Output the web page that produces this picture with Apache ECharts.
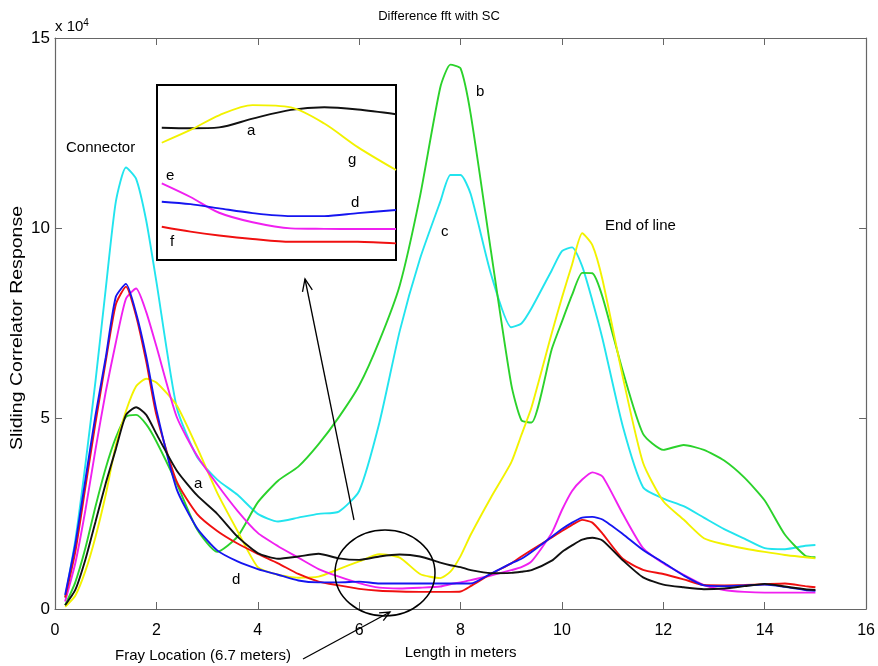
<!DOCTYPE html>
<html>
<head>
<meta charset="utf-8">
<script src="https://cdn.jsdelivr.net/npm/echarts@6/dist/echarts.min.js"></script>
<style>
  html, body { margin: 0; padding: 0; background: #fff; }
  #chart { width: 878px; height: 666px; }
</style>
</head>
<body>
<div id="chart"></div>
<script>
// sample positions along the line (meters)
const lengths = [0.2, 0.4, 0.6, 0.8, 1.0, 1.2, 1.4, 1.6, 1.8, 2.0,
  2.4, 2.8, 3.2, 3.6, 4.0, 4.4, 4.8, 5.2, 5.6, 6.0,
  6.4, 6.8, 7.2, 7.6, 7.8, 8.0, 8.2, 8.6, 9.0, 9.2,
  9.4, 9.8, 10.0, 10.2, 10.4, 10.6, 10.8, 11.2, 11.6, 12.0,
  12.4, 12.8, 13.2, 13.6, 14.0, 14.4, 14.8, 15.0];

// responses, in units of 1e4
const curveC = [0.3, 1.8, 3.8, 6.0, 8.4, 10.7, 11.6, 11.3, 10.2, 8.6,
  5.3, 4.0, 3.4, 3.0, 2.5, 2.3, 2.4, 2.5, 2.56, 3.1,
  4.9, 7.3, 9.2, 10.7, 11.4, 11.4, 10.9, 8.8, 7.4, 7.5,
  7.9, 8.9, 9.4, 9.5, 9.0, 8.1, 7.1, 4.8, 3.2, 2.9,
  2.7, 2.4, 2.1, 1.85, 1.6, 1.57, 1.66, 1.68];
const curveB = [0.1, 0.7, 1.6, 2.7, 3.7, 4.5, 5.05, 5.1, 4.85, 4.4,
  3.3, 2.1, 1.5, 1.9, 2.8, 3.37, 3.74, 4.33, 5.04, 5.87,
  7.05, 8.5, 10.84, 13.7, 14.3, 14.2, 13.0, 9.4, 5.9, 4.96,
  4.9, 6.83, 7.55, 8.25, 8.83, 8.82, 8.2, 6.25, 4.6, 4.18,
  4.31, 4.18, 3.9, 3.45, 2.85, 1.95, 1.4, 1.36];
const curveG = [0.06, 0.35, 1.0, 1.9, 3.0, 4.3, 5.2, 5.85, 6.05, 5.95,
  5.35, 4.25, 3.05, 2.05, 1.1, 0.9, 0.82, 0.85, 1.05, 1.25,
  1.44, 1.35, 0.92, 0.81, 0.98, 1.39, 1.95, 2.93, 3.85, 4.57,
  5.3, 7.25, 8.18, 9.05, 9.87, 9.56, 8.65, 6.1, 3.84, 2.83,
  2.35, 1.86, 1.7, 1.59, 1.5, 1.42, 1.36, 1.33];
const curveE = [0.2, 1.2, 2.6, 4.2, 5.7, 7.0, 8.15, 8.42, 7.8, 6.9,
  5.05, 4.03, 3.27, 2.58, 2.0, 1.65, 1.35, 1.05, 0.85, 0.68,
  0.56, 0.54, 0.56, 0.59, 0.65, 0.7, 0.76, 0.88, 1.02, 1.1,
  1.25, 2.0, 2.6, 3.1, 3.4, 3.59, 3.48, 2.5, 1.6, 1.2,
  0.9, 0.63, 0.5, 0.45, 0.43, 0.43, 0.43, 0.43];
const curveD = [0.37, 1.7, 3.4, 5.1, 6.6, 8.2, 8.54, 7.77, 6.63, 5.23,
  3.15, 2.13, 1.54, 1.25, 1.05, 0.9, 0.75, 0.7, 0.7, 0.72,
  0.67, 0.67, 0.67, 0.67, 0.67, 0.67, 0.67, 0.93, 1.2, 1.32,
  1.5, 1.9, 2.1, 2.27, 2.4, 2.42, 2.35, 1.97, 1.55, 1.22,
  0.88, 0.62, 0.6, 0.62, 0.64, 0.58, 0.5, 0.48];
const curveF = [0.3, 1.5, 3.2, 4.9, 6.5, 8.0, 8.47, 7.7, 6.5, 5.1,
  3.35, 2.5, 2.05, 1.72, 1.45, 1.2, 0.92, 0.72, 0.62, 0.53,
  0.48, 0.46, 0.45, 0.45, 0.45, 0.46, 0.6, 0.92, 1.2, 1.38,
  1.55, 1.88, 2.05, 2.21, 2.34, 2.27, 1.98, 1.32, 1.03, 0.92,
  0.78, 0.63, 0.62, 0.63, 0.65, 0.67, 0.6, 0.57];
const curveA = [0.1, 0.5, 1.3, 2.3, 3.3, 4.2, 5.1, 5.3, 5.1, 4.6,
  3.64, 2.99, 2.5, 1.9, 1.47, 1.32, 1.38, 1.45, 1.33, 1.29,
  1.38, 1.43, 1.38, 1.22, 1.15, 1.1, 1.02, 0.94, 0.95, 0.98,
  1.02, 1.27, 1.5, 1.67, 1.82, 1.87, 1.8, 1.28, 0.83, 0.64,
  0.57, 0.52, 0.54, 0.6, 0.66, 0.59, 0.52, 0.5];

// zoomed view of the fray region (inset, relative 0-100 scale)
const insetX = [2, 14, 26, 40, 56, 70, 84, 100];
const insetA = [75.6, 75.3, 75.8, 80.8, 85.8, 87.3, 86.0, 83.3];
const insetG = [67, 74.3, 82.7, 88.5, 87.2, 78, 64.5, 51.4];
const insetE = [43.8, 36, 27, 21.6, 18.1, 17.8, 17.7, 17.7];
const insetD = [33.3, 31.9, 29.5, 26.8, 25.1, 25.1, 26.8, 28.6];
const insetF = [19, 16.2, 14, 12, 10.4, 10.5, 10.4, 9.5];

const FONT = '"Liberation Sans", Arial, sans-serif';
const colors = {
  c: '#22e4ee', b: '#2bd22b', g: '#f2f200', e: '#f020f0',
  d: '#1515f0', f: '#f01010', a: '#111111'
};

const pairs = (xs, ys) => xs.map((x, i) => [x, ys[i]]);

function mainLine(name, ys) {
  return {
    name: name, type: 'line', xAxisIndex: 0, yAxisIndex: 0,
    data: pairs(lengths, ys), showSymbol: false, smooth: 0.2,
    lineStyle: { color: colors[name], width: 1.9 }, z: 3
  };
}
function insetLine(name, ys) {
  return {
    name: 'inset-' + name, type: 'line', xAxisIndex: 2, yAxisIndex: 2,
    data: pairs(insetX, ys), showSymbol: false, smooth: 0.3,
    lineStyle: { color: colors[name], width: 1.9 }, z: 6
  };
}

const axisGray = '#666';
const chart = echarts.init(document.getElementById('chart'));

const label = (text, x, y, size) => ({
  type: 'text', x: x, y: y, z: 20,
  style: { text: text, fontFamily: FONT, fontSize: size || 15, fill: '#000',
    verticalAlign: 'middle' }
});

// box axes: ticks inside on all four sides
const boxLine = { show: true, onZero: false, lineStyle: { color: axisGray, width: 1.2 } };
const boxTick = { show: true, inside: true, length: 7, lineStyle: { color: axisGray } };

chart.setOption({
  animation: false,
  backgroundColor: '#fff',
  title: {
    text: 'Difference fft with SC', left: 'center', top: 5,
    textStyle: { fontFamily: FONT, fontSize: 13, fontWeight: 'normal', color: '#000' }
  },
  grid: [
    { left: 55, right: 9, top: 38, bottom: 57 },
    { left: 157, top: 85, width: 239, height: 175, show: true,
      borderColor: '#000', borderWidth: 2, backgroundColor: '#fff', z: 5 }
  ],
  xAxis: [
    {
      type: 'value', gridIndex: 0, min: 0, max: 16, interval: 2,
      axisLine: boxLine, axisTick: boxTick,
      axisLabel: { fontFamily: FONT, fontSize: 16, color: '#000', margin: 14 },
      splitLine: { show: false },
      name: 'Length in meters', nameLocation: 'middle', nameGap: 36,
      nameTextStyle: { fontFamily: FONT, fontSize: 15, color: '#000' }
    },
    {
      type: 'value', gridIndex: 0, position: 'top', min: 0, max: 16, interval: 2,
      axisLine: boxLine, axisTick: boxTick,
      axisLabel: { show: false }, splitLine: { show: false }
    },
    { type: 'value', gridIndex: 1, min: 0, max: 100, show: false }
  ],
  yAxis: [
    {
      type: 'value', gridIndex: 0, min: 0, max: 15, interval: 5,
      axisLine: boxLine, axisTick: boxTick,
      axisLabel: { fontFamily: FONT, fontSize: 17, color: '#000', margin: 5 },
      splitLine: { show: false }
    },
    {
      type: 'value', gridIndex: 0, position: 'right', min: 0, max: 15, interval: 5,
      axisLine: boxLine, axisTick: boxTick,
      axisLabel: { show: false }, splitLine: { show: false }
    },
    { type: 'value', gridIndex: 1, min: 0, max: 100, show: false }
  ],
  series: [
    mainLine('c', curveC),
    mainLine('b', curveB),
    mainLine('g', curveG),
    mainLine('e', curveE),
    mainLine('f', curveF),
    mainLine('d', curveD),
    mainLine('a', curveA),
    insetLine('a', insetA),
    insetLine('g', insetG),
    insetLine('e', insetE),
    insetLine('d', insetD),
    insetLine('f', insetF)
  ],
  graphic: [
    // y axis title (source figure is stretched vertically)
    {
      type: 'text', x: 18, y: 328, rotation: Math.PI / 2, scaleX: 1.22, z: 20,
      style: { text: 'Sliding Correlator Response', fontFamily: FONT, fontSize: 16,
        fill: '#000', align: 'center', verticalAlign: 'middle' }
    },
    {
      type: 'text', x: 55, y: 27, z: 20,
      style: { text: 'x 10{s|4}', fontFamily: FONT, fontSize: 15, fill: '#000',
        verticalAlign: 'middle',
        rich: { s: { fontFamily: FONT, fontSize: 10, verticalAlign: 'top', padding: [0, 0, 8, 0] } } }
    },
    label('Connector', 66, 148),
    label('End of line', 605, 226),
    label('b', 476, 92),
    label('c', 441, 232),
    label('a', 194, 484),
    label('d', 232, 580),
    label('a', 247, 131),
    label('g', 348, 160),
    label('e', 166, 176),
    label('d', 351, 203),
    label('f', 170, 242),
    label('Fray Location (6.7 meters)', 115, 656),
    // circled fray region
    {
      type: 'ellipse', z: 15,
      shape: { cx: 385, cy: 573, rx: 50, ry: 43 },
      style: { fill: null, stroke: '#000', lineWidth: 1.5 }
    },
    // arrow to the inset
    { type: 'line', z: 15, shape: { x1: 354, y1: 520, x2: 305, y2: 279 },
      style: { stroke: '#000', lineWidth: 1.3 } },
    { type: 'polyline', z: 15, shape: { points: [[312.3, 289.8], [305, 279], [302.5, 291.8]] },
      style: { fill: null, stroke: '#000', lineWidth: 1.3 } },
    // arrow from fray label
    { type: 'line', z: 15, shape: { x1: 303, y1: 659, x2: 390, y2: 612 },
      style: { stroke: '#000', lineWidth: 1.3 } },
    { type: 'polyline', z: 15, shape: { points: [[383.3, 620.7], [390, 612], [379.1, 612.8]] },
      style: { fill: null, stroke: '#000', lineWidth: 1.3 } }
  ]
});
</script>
</body>
</html>
